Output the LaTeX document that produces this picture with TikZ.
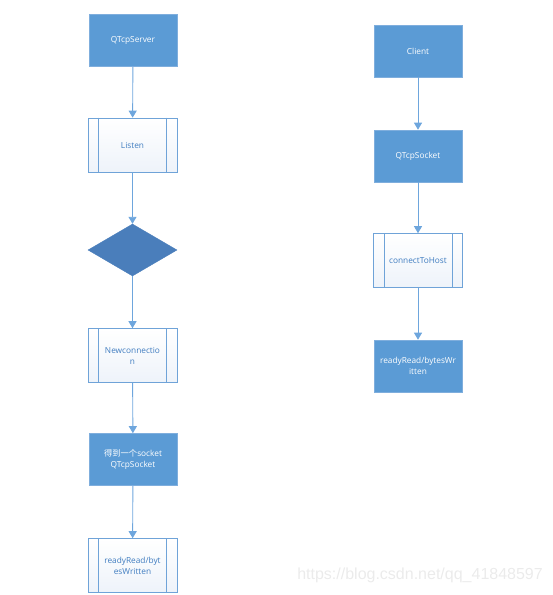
\documentclass[tikz,border=0pt]{standalone}
\usepackage{fontspec}
\setmainfont{Open Sans}
\newfontfamily\cjk{Noto Sans CJK SC}
\newfontfamily\wmfont{Liberation Sans}
\usetikzlibrary{shapes.geometric,arrows.meta}
\definecolor{boxblue}{HTML}{5B9BD5}
\definecolor{boxedge}{HTML}{7FAEDD}
\definecolor{diablue}{HTML}{4A7EBB}
\definecolor{subedge}{HTML}{6FA3D8}
\definecolor{subtext}{HTML}{3F7CC0}
\definecolor{subfill}{HTML}{EEF3FA}
\definecolor{arrowc}{HTML}{6EA6DD}
\definecolor{wmark}{HTML}{EBEBEB}
\tikzset{
  x=1pt, y=-1pt,
  bluebox/.style={draw=boxedge, fill=boxblue, text=white, minimum width=88pt, minimum height=52pt,
    inner sep=1pt, align=center, font=\fontsize{8.3}{11}\selectfont, line width=0.6pt},
  subbox/.style={draw=subedge, top color=white, bottom color=subfill, text=subtext, minimum width=89pt,
    minimum height=54pt, inner sep=1pt, align=center, font=\fontsize{8.3}{11}\selectfont, line width=0.6pt},
  subline/.style={draw=subedge, line width=0.6pt},
  decision/.style={diamond, draw=diablue, fill=diablue, minimum width=89pt, minimum height=52pt, inner sep=0pt},
  flow/.style={draw=arrowc, line width=0.9pt, -{Triangle[width=8pt,length=7pt]}},
}
\begin{document}
\begin{tikzpicture}
\useasboundingbox (0,0) rectangle (553,595);
% left column
\node[bluebox] (srv) at (133,40.5) {QTcpServer};
\node[subbox] (lst) at (132.5,145) {Listen};
\node[decision] (dec) at (132.5,250) {};
\node[subbox] (newc) at (132.5,355.5) {Newconnectio\\n};
\node[bluebox] (sock) at (133,459.5) {{\cjk 得到一个}socket\\QTcpSocket};
\node[subbox] (rw1) at (132.5,565.5) {readyRead/byt\\esWritten};
% right column
\node[bluebox] (cli) at (418,51) {Client};
\node[bluebox] (qts) at (418,156) {QTcpSocket};
\node[subbox] (cth) at (418,260.5) {connectToHost};
\node[bluebox] (rw2) at (418,366) {readyRead/bytesWr\\itten};
% subprocess inner lines
\foreach \n in {lst,newc,rw1,cth}{
  \draw[subline] ([xshift=11pt]\n.north west) -- ([xshift=11pt]\n.south west);
  \draw[subline] ([xshift=-11pt]\n.north east) -- ([xshift=-11pt]\n.south east);
}
% connectors
\draw[flow] (srv) -- (lst);
\draw[flow] (lst) -- (dec);
\draw[flow] (dec) -- (newc);
\draw[flow] (newc) -- (sock);
\draw[flow] (sock) -- (rw1);
\draw[flow] (cli) -- (qts);
\draw[flow] (qts) -- (cth);
\draw[flow] (cth) -- (rw2);
% watermark
\node[text=wmark, font=\wmfont\fontsize{16}{18}\selectfont, anchor=east, inner sep=0pt] (wm) at (543,575) {https://blog.csdn.net/qq\_41848597};
\end{tikzpicture}
\end{document}
